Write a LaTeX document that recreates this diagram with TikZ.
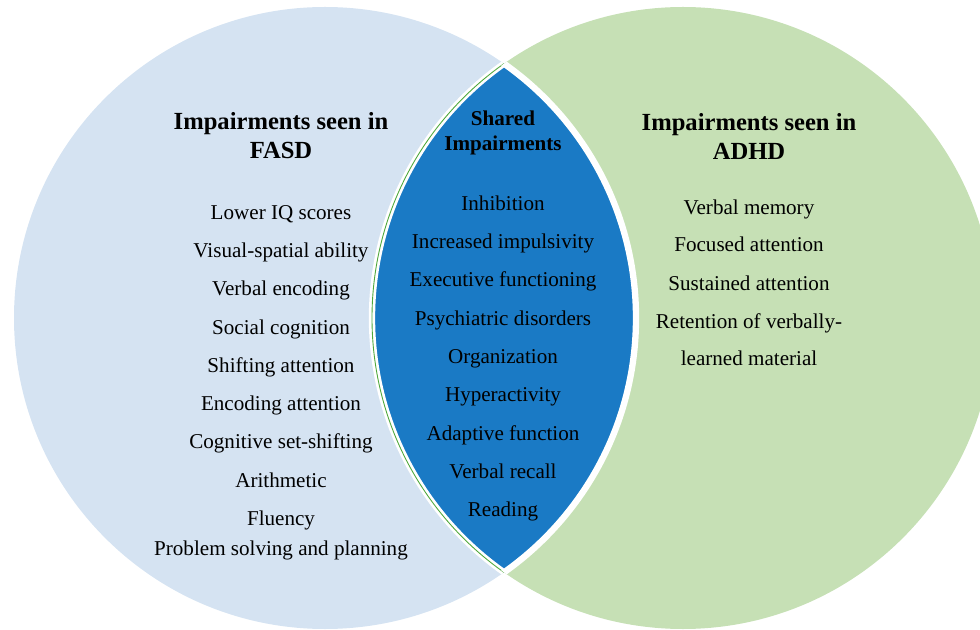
\documentclass[tikz,border=0pt]{standalone}
\usepackage{fontspec}
\setmainfont{Liberation Serif}
\usetikzlibrary{positioning}

\definecolor{fasdblue}{HTML}{D5E3F2}
\definecolor{adhdgreen}{HTML}{C6E0B5}
\definecolor{sharedblue}{HTML}{1A7AC5}
\definecolor{edgegreen}{HTML}{4FA83A}

\tikzset{
  item/.style={font=\fontsize{12}{14}\selectfont, inner sep=1pt, text height=1.9ex, text depth=0.5ex},
  heading/.style={font=\fontsize{14}{16.5}\selectfont\bfseries, align=center, inner sep=1pt},
  sharedhead/.style={font=\fontsize{12}{14.2}\selectfont\bfseries, align=center, inner sep=1pt}
}

\begin{document}
\begin{tikzpicture}
\useasboundingbox (0,0) rectangle (19.6,12.58);

% Circles
\fill[fasdblue] (6.5,6.22) circle (6.22);
\fill[adhdgreen] (13.66,6.22) circle (6.22);

% Overlap
\begin{scope}
\clip (6.5,6.22) circle (6.22);
\fill[sharedblue] (13.66,6.22) circle (6.22);
\draw[white, line width=3.6pt] (13.66,6.22) circle (6.22);
\draw[edgegreen, line width=0.5pt] (13.66,6.22) circle (6.22);
\end{scope}
\begin{scope}
\clip (13.66,6.22) circle (6.22);
\draw[white, line width=3.6pt] (6.5,6.22) circle (6.22);
\end{scope}

% Headings
\node[heading] (fasdhead) at (5.62,9.86) {Impairments seen in\\FASD};
\node[sharedhead] (sharedhead) at (10.06,9.93) {Shared\\Impairments};
\node[heading] (adhdhead) at (14.98,9.86) {Impairments seen in\\ADHD};

% FASD
\node[item] (fasd1) at (5.62,8.30) {Lower IQ scores};
\node[item] (fasd2) at (5.62,7.54) {Visual-spatial ability};
\node[item] (fasd3) at (5.62,6.78) {Verbal encoding};
\node[item] (fasd4) at (5.62,6.00) {Social cognition};
\node[item] (fasd5) at (5.62,5.24) {Shifting attention};
\node[item] (fasd6) at (5.62,4.48) {Encoding attention};
\node[item] (fasd7) at (5.62,3.72) {Cognitive set-shifting};
\node[item] (fasd8) at (5.62,2.94) {Arithmetic};
\node[item] (fasd9) at (5.62,2.18) {Fluency};
\node[item] (fasd10) at (5.62,1.58) {Problem solving and planning};

% Shared
\node[item] (shared1) at (10.06,8.48) {Inhibition};
\node[item] (shared2) at (10.06,7.72) {Increased impulsivity};
\node[item] (shared3) at (10.06,6.96) {Executive functioning};
\node[item] (shared4) at (10.06,6.18) {Psychiatric disorders};
\node[item] (shared5) at (10.06,5.42) {Organization};
\node[item] (shared6) at (10.06,4.66) {Hyperactivity};
\node[item] (shared7) at (10.06,3.88) {Adaptive function};
\node[item] (shared8) at (10.06,3.12) {Verbal recall};
\node[item] (shared9) at (10.06,2.36) {Reading};

% ADHD
\node[item] (adhd1) at (14.98,8.40) {Verbal memory};
\node[item] (adhd2) at (14.98,7.66) {Focused attention};
\node[item] (adhd3) at (14.98,6.88) {Sustained attention};
\node[item] (adhd4) at (14.98,6.12) {Retention of verbally-};
\node[item] (adhd5) at (14.98,5.38) {learned material};

\end{tikzpicture}
\end{document}
